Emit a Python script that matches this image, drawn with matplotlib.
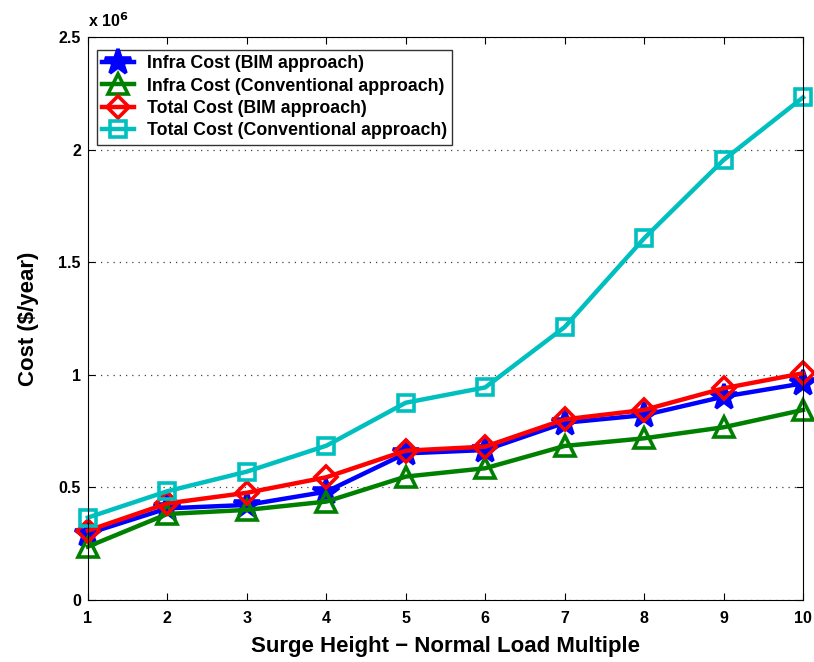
import matplotlib.pyplot as plt
from matplotlib.ticker import FuncFormatter

plt.rcParams["font.family"] = ["Liberation Sans", "DejaVu Sans"]
plt.rcParams["font.weight"] = "bold"

multiples = [1, 2, 3, 4, 5, 6, 7, 8, 9, 10]

infra_bim = [295000, 407000, 422000, 481000, 651000, 666000, 787000, 821000, 903000, 962000]
infra_conv = [237000, 382000, 400000, 437000, 548000, 585000, 684000, 718000, 767000, 844000]
total_bim = [308000, 429000, 476000, 545000, 663000, 681000, 802000, 844000, 940000, 1007000]
total_conv = [366000, 483000, 570000, 685000, 876000, 944000, 1212000, 1606000, 1954000, 2232000]

series = [
    (infra_bim, "Infra Cost (BIM approach)", (0, 0, 1), "*", 19),
    (infra_conv, "Infra Cost (Conventional approach)", (0, 0.5, 0), "^", 14),
    (total_bim, "Total Cost (BIM approach)", (1, 0, 0), "D", 11),
    (total_conv, "Total Cost (Conventional approach)", (0, 0.75, 0.75), "s", 11),
]

fig = plt.figure(figsize=(8.14, 6.62), dpi=100)
ax = fig.add_axes([0.108, 0.0937, 0.8785, 0.8503])

for ys, label, color, marker, ms in series:
    ax.plot(multiples, ys, color=color, marker=marker, markersize=ms,
            markerfacecolor="none" if marker != "*" else color,
            markeredgewidth=2.6, linewidth=3.2, label=label, clip_on=False)

ax.set_xlim(1, 10)
ax.set_ylim(0, 2500000)
ax.set_xticks(multiples)
ax.set_yticks([0, 500000, 1000000, 1500000, 2000000, 2500000])
ax.yaxis.set_major_formatter(FuncFormatter(lambda v, p: f"{v / 1e6:g}"))
ax.tick_params(direction="in", top=True, right=True, labelsize=11.5, length=5)
ax.tick_params(axis="x", pad=8)
ax.tick_params(axis="y", pad=5)
for lab in ax.get_xticklabels() + ax.get_yticklabels():
    lab.set_fontweight("bold")
ax.yaxis.grid(True, linestyle=(0, (1, 4)), color="#444444", linewidth=0.9)
ax.set_axisbelow(True)

ax.text(0.0, 1.012, "x 10$^{6}$", transform=ax.transAxes, fontsize=11.5,
        fontweight="bold", ha="left", va="bottom")

ax.set_xlabel("Surge Height \u2212 Normal Load Multiple", fontsize=16,
              fontweight="bold", labelpad=7)
ax.set_ylabel("Cost ($/year)", fontsize=16, fontweight="bold", labelpad=14)

leg = ax.legend(loc="upper left", bbox_to_anchor=(0.0125, 0.977), fontsize=12.8,
                frameon=True, fancybox=False, edgecolor="black",
                handlelength=1.8, handletextpad=0.7, borderpad=0.3,
                labelspacing=0.3, borderaxespad=0)
leg.get_frame().set_linewidth(1.0)
for t in leg.get_texts():
    t.set_fontweight("bold")

fig.savefig("out.png", dpi=100)
